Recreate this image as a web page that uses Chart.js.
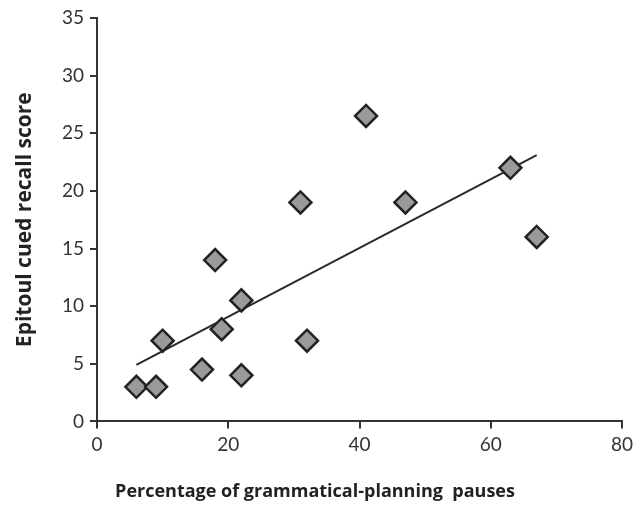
<!DOCTYPE html>
<html>
<head>
<meta charset="utf-8">
<script src="https://cdn.jsdelivr.net/npm/chart.js@4"></script>
<style>
  html, body { margin: 0; padding: 0; background: #fff; }
  #wrap { width: 640px; height: 509px; }
</style>
</head>
<body>
<div id="wrap"><canvas id="scatterChart" width="640" height="509"></canvas></div>
<script>
// valores
const pauseX = [6, 9, 10, 16, 18, 19, 22, 22, 31, 32, 41, 47, 63, 67];
const recallY = [3, 3, 7, 4.5, 14, 8, 10.5, 4, 19, 7, 26.5, 19, 22, 16];
const trendX = [6, 67];
const trendY = [4.9, 23.1];
const xTicks = [0, 20, 40, 60, 80];
const yTicks = [0, 5, 10, 15, 20, 25, 30, 35];

const points = pauseX.map((x, i) => ({ x: x, y: recallY[i] }));
const trend = trendX.map((x, i) => ({ x: x, y: trendY[i] }));

const tickFont = { family: 'Lato, "Open Sans", sans-serif', size: 19 };
const titleFamily = '"Open Sans", Lato, sans-serif';

const ctx = document.getElementById('scatterChart').getContext('2d');
const scatterChart = new Chart(ctx, {
    type: 'scatter',
    data: {
        datasets: [{
            label: 'Trend',
            data: trend,
            type: 'line',
            showLine: true,
            borderColor: '#2a2a2a',
            borderWidth: 2,
            pointRadius: 0,
            fill: false,
            order: 1
        }, {
            label: 'Participants',
            data: points,
            pointStyle: 'rectRot',
            pointRadius: 11,
            pointHoverRadius: 11,
            backgroundColor: '#9a9a9a',
            borderColor: '#222',
            borderWidth: 2.5,
            order: 0
        }]
    },
    options: {
        responsive: false,
        animation: false,
        layout: { padding: { left: 8, right: 18, top: 18, bottom: 6 } },
        plugins: {
            legend: { display: false },
            tooltip: { enabled: false },
            // titulo del eje x, centrado en todo el lienzo como en la figura
            title: {
                display: true,
                position: 'bottom',
                text: 'Percentage of grammatical-planning  pauses',
                color: '#222',
                font: { family: titleFamily, size: 18, weight: 'bold' },
                padding: { top: 8, bottom: 0 }
            }
        },
        scales: {
            x: {
                type: 'linear',
                min: 0,
                max: 80,
                afterBuildTicks: (s) => { s.ticks = xTicks.map(v => ({ value: v })); },
                afterFit: (s) => { s.height = 52; },
                grid: { display: true, drawOnChartArea: false, drawTicks: true, tickLength: 7, color: '#333', lineWidth: 2 },
                border: { display: true, color: '#333', width: 2 },
                ticks: { color: '#333', font: tickFont, padding: 5 }
            },
            y: {
                type: 'linear',
                min: 0,
                max: 35,
                afterBuildTicks: (s) => { s.ticks = yTicks.map(v => ({ value: v })); },
                afterFit: (s) => { s.width = 89; },
                grid: { display: true, drawOnChartArea: false, drawTicks: true, tickLength: 7, color: '#333', lineWidth: 2 },
                border: { display: true, color: '#333', width: 2 },
                ticks: { color: '#333', font: tickFont, padding: 6 },
                title: { display: true, text: 'Epitoul cued recall score', color: '#222', font: { family: titleFamily, size: 21, weight: 'bold' }, padding: { bottom: 4 } }
            }
        }
    }
});
</script>
</body>
</html>
